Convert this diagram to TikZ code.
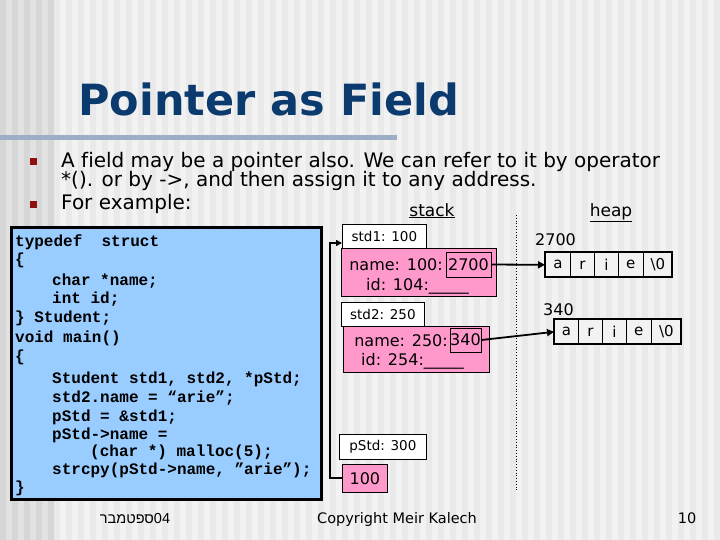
\documentclass[tikz,border=0pt]{standalone}
\usepackage{fontspec}
\setmainfont[Ligatures=NoCommon]{DejaVu Sans}
\newfontfamily\codefont{Liberation Mono}
\newfontfamily\hebfont[Script=Hebrew]{Liberation Sans}
\TeXXeTstate=1
\usetikzlibrary{arrows.meta}
\definecolor{bgA}{HTML}{F2F2F2}
\definecolor{bgB}{HTML}{E9E9E9}
\definecolor{bgC}{HTML}{E2E2E2}
\definecolor{bgD}{HTML}{D6D6D6}
\definecolor{titleblue}{HTML}{0B3A6E}
\definecolor{rulecol}{HTML}{9DAFC6}
\definecolor{bulletred}{HTML}{8E1010}
\definecolor{codeblue}{HTML}{99CCFF}
\definecolor{stackpink}{HTML}{FF99CC}
\tikzset{
  codeline/.style={anchor=base west, inner sep=0pt, font=\codefont\bfseries\fontsize{16}{19}\selectfont},
  bodytext/.style={anchor=base west, inner sep=0pt, font=\fontsize{20}{22}\selectfont},
  labelbox/.style={draw=black, line width=0.8pt, fill=white, inner sep=0pt, anchor=north west},
  pinkbox/.style={draw=black, line width=0.8pt, fill=stackpink, inner sep=0pt, anchor=north west},
  stacktext/.style={inner sep=0pt, font=\fontsize{16}{18}\selectfont},
  smalltext/.style={inner sep=0pt, font=\fontsize{13.5}{16}\selectfont},
  valbox/.style={draw=black, line width=0.8pt, inner sep=0pt, font=\fontsize{16}{18}\selectfont},
  arrcell/.style={draw=black, line width=0.7pt, fill=white!90!gray, minimum height=25pt, inner sep=0pt, font=\fontsize{15}{18}\selectfont},
  conn/.style={line width=1.8pt, -{Triangle[length=7pt,width=7pt]}},
  bullet/.style={fill=bulletred, minimum size=7pt, inner sep=0pt},
  foot/.style={inner sep=0pt, font=\fontsize{14.5}{17}\selectfont}
}
\begin{document}
\begin{tikzpicture}[x=1pt,y=-1pt]
\useasboundingbox (0,0) rectangle (720,540);
% background
\fill[bgA] (0,0) rectangle (720,540);
\foreach \i in {54,66,...,714} {\fill[bgB] (\i,0) rectangle ++(6,540);}
\fill[bgC] (0,0) rectangle (54,540);
\foreach \i in {0,12,...,48} {\fill[bgD] (\i,0) rectangle ++(6,540);}
% title
\node[anchor=base west, inner sep=0pt, text=titleblue, font=\bfseries\fontsize{43}{48}\selectfont] (title) at (78,116) {Pointer as Field};
\fill[rulecol] (0,135.5) rectangle (397,140.5);
% bullets
\node[bullet] (b1) at (33.5,162) {};
\node[bullet] (b2) at (33.5,205) {};
\node[bodytext] (t1) at (61,168) {A field may be a pointer also. We can refer to it by operator};
\node[bodytext] (t2) at (61,187) {*(). or by ->, and then assign it to any address.};
\node[bodytext] (t3) at (61,210) {For example:};
\node[anchor=base, inner sep=0pt, font=\fontsize{17}{20}\selectfont] (stack) at (432,216) {\underline{stack}};
\node[anchor=base, inner sep=0pt, font=\fontsize{17}{20}\selectfont] (heap) at (611,216) {\underline{heap}};
% code box
\draw[fill=codeblue, line width=3pt] (11,228) rectangle (321,499);
\node[codeline] (c1) at (15,246) {typedef\ \ struct};
\node[codeline] (c2) at (15,264) {\{};
\node[codeline] (c3) at (52,285) {char *name;};
\node[codeline] (c4) at (52,303) {int id;};
\node[codeline] (c5) at (15,322) {\} Student;};
\node[codeline] (c6) at (15,342) {void main()};
\node[codeline] (c7) at (15,361) {\{};
\node[codeline] (c8) at (52,383) {Student std1, std2, *pStd;};
\node[codeline] (c9) at (52,402) {std2.name = “arie”;};
\node[codeline] (c10) at (52,421) {pStd = \&std1;};
\node[codeline] (c11) at (52,439) {pStd->name =};
\node[codeline] (c12) at (90,456) {(char *) malloc(5);};
\node[codeline] (c13) at (52,474) {strcpy(pStd->name, ”arie”);};
\node[codeline] (c14) at (15,492) {\}};
% separator
\draw[dotted, line width=0.8pt] (516,215) -- (516,492);
% stack
\node[labelbox, minimum width=84pt, minimum height=24pt] (s1lab) at (342,224) {};
\node[smalltext] (s1labt) at (s1lab.center) {std1: 100};
\node[pinkbox, minimum width=155pt, minimum height=48pt] (s1) at (341,248) {};
\node[stacktext, anchor=base east] (s1name) at (443,270) {name: 100:};
\node[valbox, minimum width=45pt, minimum height=25pt] (s1ptr) at (468.5,264.5) {2700};
\node[stacktext, anchor=base west] (s1id) at (366,290) {id: 104:\_\_\_\_\_};
\node[labelbox, minimum width=83pt, minimum height=24pt] (s2lab) at (341,302) {};
\node[smalltext] (s2labt) at (s2lab.center) {std2: 250};
\node[pinkbox, minimum width=146pt, minimum height=46pt] (s2) at (343,326) {};
\node[stacktext, anchor=base east] (s2name) at (448,346) {name: 250:};
\node[valbox, minimum width=31pt, minimum height=24pt] (s2ptr) at (465.5,340) {340};
\node[stacktext, anchor=base west] (s2id) at (361,365) {id: 254:\_\_\_\_\_};
\node[labelbox, minimum width=87pt, minimum height=25pt] (plab) at (339,434) {};
\node[smalltext] (plabt) at (plab.center) {pStd: 300};
\node[pinkbox, minimum width=45pt, minimum height=28pt] (pval) at (342,464) {};
\node[stacktext] (pvalt) at (pval.center) {100};
% heap
\node[anchor=base west, inner sep=0pt, font=\fontsize{16}{18}\selectfont] (h1lab) at (535,245) {2700};
\node[anchor=base west, inner sep=0pt, font=\fontsize{16}{18}\selectfont] (h2lab) at (543,315) {340};
\foreach \n/\x/\w/\c in {1/545/25/a,2/570/24/r,3/594/24/i,4/618/25/e,5/643/29/\textbackslash 0}{
  \node[arrcell, minimum width=\w pt, anchor=north west] (ha\n) at (\x,252) {\c};
}
\draw[line width=2.5pt] (545,252) rectangle (672,277);
\foreach \n/\x/\w/\c in {1/554/24/a,2/578/24/r,3/602/24/i,4/626/25/e,5/651/30/\textbackslash 0}{
  \node[arrcell, minimum width=\w pt, anchor=north west] (hb\n) at (\x,319) {\c};
}
\draw[line width=2.5pt] (554,319) rectangle (681,344);
% connectors
\draw[conn] (s1ptr.east) -- (ha1.west);
\draw[conn] (s2ptr.east) -- (hb1.west);
\coordinate (bend) at (330,478);
\draw[line width=2.5pt, -{Triangle[length=6pt,width=6pt]}] (pval.west |- 0,478) -- (bend) |- (s1lab.west |- 0,243);
% footer
\node[foot, anchor=base] (f1) at (135,523) {\hebfont\beginR\beginL 04\endL ספטמבר\endR};
\node[foot, anchor=base] (f2) at (397,523) {Copyright Meir Kalech};
\node[foot, anchor=base] (f3) at (687,523) {10};
\end{tikzpicture}
\end{document}
